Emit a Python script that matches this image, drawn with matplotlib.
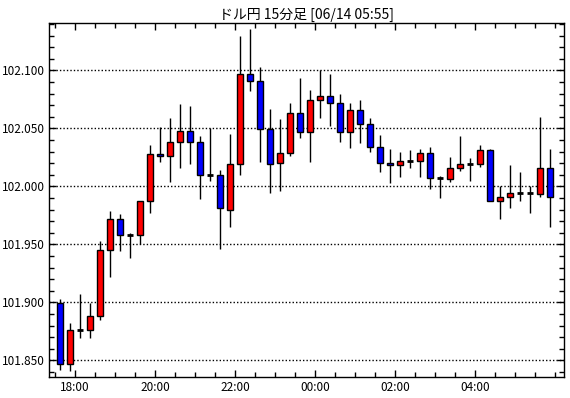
import numpy as np
import matplotlib
matplotlib.use('Agg')
import matplotlib.pyplot as plt
from matplotlib.ticker import MultipleLocator, FixedLocator

plt.rcParams['font.family'] = ['Noto Sans CJK JP', 'DejaVu Sans']

# ドル円 15分足 (始値, 高値, 安値, 終値)
opens = [101.899, 101.847, 101.876, 101.876, 101.888, 101.945, 101.972, 101.958, 101.958, 101.987,
         102.028, 102.026, 102.038, 102.048, 102.038, 102.010, 102.010, 101.980, 102.019, 102.097,
         102.091, 102.049, 102.020, 102.029, 102.063, 102.047, 102.074, 102.078, 102.072, 102.047,
         102.066, 102.054, 102.034, 102.020, 102.018, 102.022, 102.022, 102.029, 102.007, 102.006,
         102.016, 102.019, 102.019, 102.031, 101.987, 101.991, 101.994, 101.994, 101.993, 102.016]
highs = [101.903, 101.882, 101.907, 101.899, 101.953, 101.979, 101.976, 101.960, 101.987, 102.036,
         102.051, 102.059, 102.071, 102.069, 102.043, 102.050, 102.014, 102.045, 102.130, 102.136,
         102.103, 102.067, 102.058, 102.072, 102.093, 102.083, 102.100, 102.097, 102.080, 102.072,
         102.074, 102.059, 102.044, 102.032, 102.030, 102.031, 102.032, 102.034, 102.009, 102.025,
         102.043, 102.024, 102.036, 102.032, 102.000, 102.018, 102.012, 102.000, 102.060, 102.032]
lows = [101.842, 101.841, 101.869, 101.869, 101.885, 101.922, 101.944, 101.938, 101.950, 101.977,
        102.021, 102.004, 102.016, 102.019, 101.989, 102.005, 101.946, 101.965, 102.010, 102.082,
        102.021, 101.994, 101.996, 102.026, 102.042, 102.021, 102.059, 102.052, 102.038, 102.033,
        102.037, 102.030, 102.012, 102.003, 102.008, 102.016, 102.008, 101.998, 101.990, 102.004,
        102.013, 102.005, 102.017, 101.987, 101.972, 101.981, 101.987, 101.977, 101.991, 101.965]
closes = [101.847, 101.876, 101.876, 101.888, 101.945, 101.972, 101.958, 101.958, 101.987, 102.028,
          102.026, 102.038, 102.048, 102.038, 102.010, 102.010, 101.981, 102.019, 102.097, 102.091,
          102.049, 102.019, 102.029, 102.063, 102.047, 102.074, 102.078, 102.072, 102.047, 102.066,
          102.054, 102.034, 102.020, 102.018, 102.022, 102.022, 102.029, 102.007, 102.007, 102.016,
          102.019, 102.019, 102.031, 101.987, 101.991, 101.994, 101.994, 101.994, 102.016, 101.991]

time_labels = ['18:00', '20:00', '22:00', '00:00', '02:00', '04:00']
title = 'ドル円 15分足 [06/14 05:55]'

o = np.array(opens)
h = np.array(highs)
l = np.array(lows)
c = np.array(closes)
x = np.arange(len(o))

fig = plt.figure(figsize=(5.70, 3.98), dpi=100)
ax = fig.add_axes([49 / 570, 1 - 377 / 398, (564 - 49) / 570, (377 - 23) / 398])

# 目盛線
for yv in np.arange(101.85, 102.101, 0.05):
    ax.axhline(yv, color='black', lw=1, ls=(0, (1, 1.5)), zorder=1)

# ヒゲ
ax.vlines(x, l, h, color='black', lw=1, zorder=2)

# 実体
w = 0.58
up = c > o
down = c < o
doji = c == o
ax.bar(x[up], (c - o)[up], bottom=o[up], width=w, color='#ff0000',
       edgecolor='black', lw=1, zorder=3)
ax.bar(x[down], (o - c)[down], bottom=c[down], width=w, color='#0000ff',
       edgecolor='black', lw=1, zorder=3)
ax.hlines(c[doji], x[doji] - w / 2, x[doji] + w / 2, color='black', lw=2, zorder=3)

ax.set_xlim(-1.1, 50.4)
ax.set_ylim(101.8356, 102.1408)

ax.yaxis.set_major_locator(MultipleLocator(0.05))
ax.yaxis.set_minor_locator(MultipleLocator(0.01))
ax.yaxis.set_major_formatter(matplotlib.ticker.FormatStrFormatter('%.3f'))

major_x = [1.5 + 8 * k for k in range(len(time_labels))]
ax.xaxis.set_major_locator(FixedLocator(major_x))
ax.xaxis.set_minor_locator(FixedLocator([-0.5 + 2 * k for k in range(26)]))
ax.set_xticklabels(time_labels)

ax.tick_params(which='both', direction='in', top=True, right=True, color='black', width=1)
ax.tick_params(which='major', length=5, labelsize=8.5, pad=3)
ax.tick_params(which='minor', length=3.5)

for s in ax.spines.values():
    s.set_linewidth(1)
    s.set_color('black')

ax.set_title(title, fontsize=10, pad=3)

fig.savefig('out.png', dpi=100)
